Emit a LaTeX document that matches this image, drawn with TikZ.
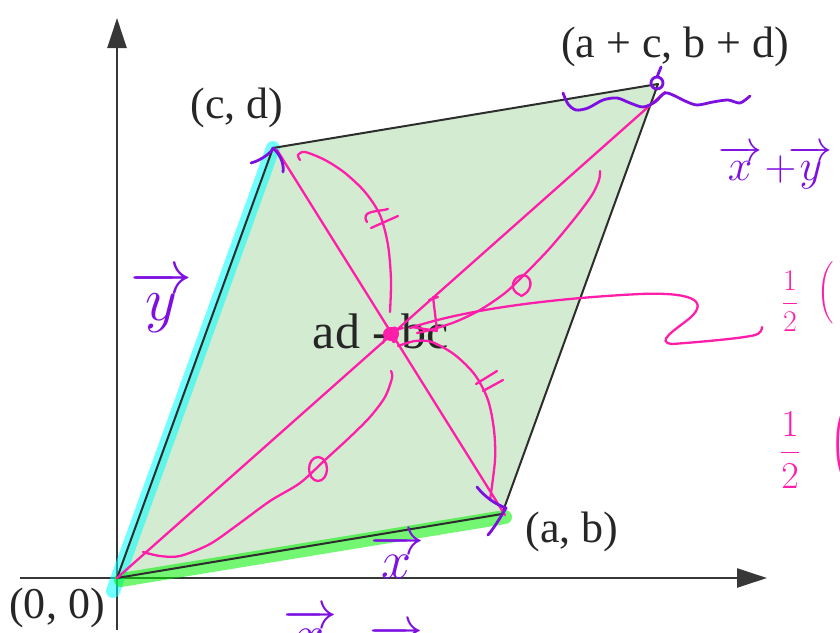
\RequirePackage{fix-cm}
\documentclass[tikz,border=0pt]{standalone}
\usepackage{amsmath}
\usepackage{fontspec}
\setmainfont{Liberation Serif}
\usetikzlibrary{arrows.meta}
\definecolor{fillg}{RGB}{211,235,208}
\definecolor{edgec}{RGB}{45,45,45}
\definecolor{axisc}{RGB}{55,55,55}
\definecolor{pen}{RGB}{125,15,225}
\definecolor{mag}{RGB}{255,30,170}
\definecolor{hcyan}{RGB}{0,255,255}
\definecolor{hgreen}{RGB}{0,240,0}
\begin{document}
\begin{tikzpicture}[x=1pt,y=-1pt,
  every node/.style={inner sep=0pt},
  axisline/.style={axisc,line width=2.4pt,-{Triangle[length=30pt,width=19pt]}},
  edgeline/.style={edgec,line width=2pt},
  hl/.style={line width=14pt,line cap=round,opacity=0.55},
  magpen/.style={mag,line width=2.3pt,line cap=round,line join=round},
  purpen/.style={pen,line width=2.8pt,line cap=round,line join=round},
  lbl/.style={font=\fontsize{44}{48}\selectfont,text=black!85},
  hw/.style={text=pen}]
\useasboundingbox (0,0) rectangle (840,632);

% key points
\coordinate (O) at (117,578);
\coordinate (A) at (502,514);
\coordinate (C) at (273,148);
\coordinate (D) at (658,84);
\coordinate (M) at (391,334);

% axes
\draw[axisline] (117,630) coordinate (yb) -- (117,18) coordinate (yt);
\draw[axisline] (20,578) coordinate (xl) -- (767,578) coordinate (xr);

% parallelogram
\fill[fillg] (O) -- (A) -- (D) -- (C) -- cycle;
\draw[hl,hcyan] (113,591) coordinate (c0) -- (C);
\draw[hl,hgreen] (121,580) coordinate (g0) -- (505,517) coordinate (g1);
\draw[edgeline,line join=round] (O) -- (A) -- (D) -- (C) -- cycle;

% labels
\node[lbl] (lD) at (675,47) {(a + c, b + d)};
\node[lbl] (lC) at (237,108) {(c, d)};
\node[lbl] (lA) at (572,532) {(a, b)};
\node[lbl] (lO) at (57,608) {(0, 0)};
\node[font=\fontsize{50}{54}\selectfont,text=black!85] (det) at (381,331) {ad - bc};

% magenta annotations
\draw[magpen] (O) -- (665,92) coordinate (Dm);
\draw[magpen] (277,150) coordinate (Cm) -- (505,515) coordinate (Am);
% center scribble
\fill[mag] (M) ellipse[x radius=8pt,y radius=7pt];
\draw[magpen] (383,343) .. controls (390,322) and (402,324) .. (396,340)
  .. controls (392,348) and (388,330) .. (403,328);
% upper-left arc with ticks
\draw[magpen] plot[smooth] coordinates {(300,160) (298,155) (305,152) (325,160) (345,173) (365,192) (380,215) (388,245) (391,280) (390,312)};
\draw[magpen] (367,222) .. controls (360,210) and (378,212) .. (388,209);
\draw[magpen] (371,228) -- (398,216);
% lower-right arc with ticks
\draw[magpen] plot[smooth] coordinates {(398,346) (415,341) (432,342) (455,355) (475,375) (488,400) (494,430) (495,460) (490,500)};
\draw[magpen] (476,384) -- (497,371);
\draw[magpen] (483,391) -- (503,380);
% lower-left arc with circle mark
\draw[magpen] plot[smooth] coordinates {(143,552) (160,556) (180,556) (210,544) (240,523) (270,501) (300,483) (325,460) (350,437) (370,417) (385,397) (392,378) (391,371)};
\draw[magpen] (318,469) ellipse[x radius=9pt,y radius=12pt];
% upper-right arc with circle mark
\draw[magpen] plot[smooth] coordinates {(600,171) (599,180) (592,195) (575,218) (550,248) (525,274) (505,293) (480,310) (455,322) (430,330) (417,333)};
\draw[magpen] (520,295) .. controls (508,290) and (512,276) .. (524,275) .. controls (534,278) and (532,292) .. (521,296);
% small angle mark near centre
\draw[magpen] (429,300) -- (438,297);
\draw[magpen] (433,297) -- (437,330);
\draw[magpen] (412,327) -- (437,331);
% long curve to the right
\draw[magpen] (410,328) .. controls (470,308) and (560,298) .. (640,294)
  .. controls (690,292) and (710,300) .. (690,318)
  .. controls (675,330) and (655,342) .. (672,344)
  .. controls (700,342) and (745,338) .. (755,335)
  .. controls (760,334) and (762,330) .. (762,327);
% 1/2 ( annotations
\node[text=mag,font=\fontsize{30}{30}\selectfont] (h1) at (790,301) {$\dfrac{1}{2}$};
\node[text=mag,font=\fontsize{20}{20}\selectfont] (p1) at (826,293) {$\Bigg($};
\node[text=mag,font=\fontsize{38}{38}\selectfont] (h2) at (790,450) {$\dfrac{1}{2}$};
\node[text=mag,font=\fontsize{28}{28}\selectfont,anchor=west] (p2) at (829,444) {$\Bigg($};

% purple annotations
\draw[purpen] plot[smooth] coordinates {(563,93) (568,104) (576,110) (588,108) (603,100) (617,98) (630,103) (643,107) (655,102) (665,93) (675,96) (685,101) (697,105) (713,102) (728,100) (740,103) (750,96)};
\draw[purpen] (657,83) circle[radius=6pt];
\draw[purpen] (657,77) -- (661,67);
% arrowheads at C and A
\draw[purpen] (251,163) .. controls (262,160) and (272,152) .. (C) .. controls (282,156) and (284,166) .. (283,172);
\draw[purpen] (477,487) .. controls (485,497) and (495,504) .. (506,508) .. controls (500,518) and (494,528) .. (488,535);
% handwritten vector names
\node[hw,font=\fontsize{44}{44}\selectfont,anchor=base west] (xy) at (718,180) {$\overrightarrow{x}\mkern1mu{+}\mkern-3mu\overrightarrow{y}$};
\node[hw,font=\fontsize{62}{62}\selectfont,anchor=base] (vy) at (161,320) {$\overrightarrow{y}$};
\node[hw,font=\fontsize{54}{54}\selectfont,anchor=base] (vx) at (397,578) {$\overrightarrow{x}$};
\node[hw,font=\fontsize{54}{54}\selectfont,anchor=base] (bx) at (310,652) {$\overrightarrow{x}$};
\node[hw,font=\fontsize{54}{54}\selectfont,anchor=base] (by) at (396,668) {$\overrightarrow{y}$};
\end{tikzpicture}
\end{document}
